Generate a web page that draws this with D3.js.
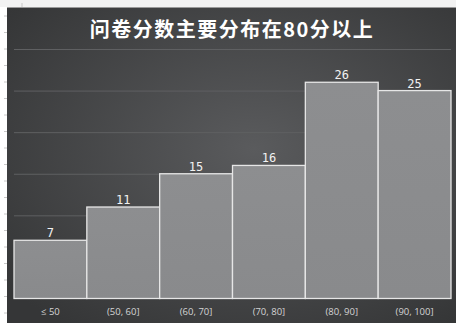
<!DOCTYPE html>
<html>
<head>
<meta charset="utf-8">
<script src="https://cdn.jsdelivr.net/npm/d3@7"></script>
<style>
  html, body { margin: 0; padding: 0; background: #ffffff; }
  svg { display: block; }
</style>
</head>
<body>
<svg id="chart" width="456" height="323"></svg>
<script>
// Score bins and respondent counts
const categories = ["≤ 50", "(50, 60]", "(60, 70]", "(70, 80]", "(80, 90]", "(90, 100]"];
const counts = [7, 11, 15, 16, 26, 25];
const gridTicks = [5, 10, 15, 20, 25, 30];
const titleText = "问卷分数主要分布在80分以上";

const W = 456, H = 323;
const svg = d3.select("#chart");
const defs = svg.append("defs");

// Dark panel gradient: lighter in the middle, darker towards the edges
const bg = defs.append("radialGradient").attr("id", "panelBg")
  .attr("cx", "55%").attr("cy", "45%").attr("r", "70%");
bg.append("stop").attr("offset", "0%").attr("stop-color", "#5a5b5d");
bg.append("stop").attr("offset", "100%").attr("stop-color", "#353637");

const barGrad = defs.append("linearGradient").attr("id", "barFill")
  .attr("x1", 0).attr("y1", 0).attr("x2", 0).attr("y2", 1);
barGrad.append("stop").attr("offset", "0%").attr("stop-color", "#8d8e90");
barGrad.append("stop").attr("offset", "100%").attr("stop-color", "#898a8c");

// Spreadsheet-like frame around the panel
svg.append("rect").attr("x", 0).attr("y", 0).attr("width", W).attr("height", 7).attr("fill", "#f2f2f2");
const rowMarks = d3.range(16, H, 16.5);
svg.selectAll("line.rowmark").data(rowMarks).join("line")
  .attr("class", "rowmark")
  .attr("x1", 4).attr("x2", 7).attr("y1", d => d).attr("y2", d => d)
  .attr("stroke", "#c8c8c8").attr("stroke-width", 1);
svg.append("line").attr("x1", 22).attr("x2", 22).attr("y1", 3).attr("y2", 7)
  .attr("stroke", "#c8c8c8");

// Panel
svg.append("rect").attr("x", 7).attr("y", 7).attr("width", W - 7).attr("height", H - 7)
  .attr("fill", "url(#panelBg)");
svg.append("line").attr("x1", 7).attr("x2", W).attr("y1", 7.5).attr("y2", 7.5)
  .attr("stroke", "#9a9a9a").attr("stroke-width", 1);

// Plot area
const plot = { left: 14, right: 451, top: 49, bottom: 298.5 };

const x = d3.scaleBand().domain(categories).range([plot.left, plot.right]).padding(0);
const y = d3.scaleLinear().domain([0, 30]).range([plot.bottom, plot.top]);

// Horizontal gridlines
svg.append("g")
  .attr("transform", `translate(${plot.left},0)`)
  .call(d3.axisLeft(y).tickValues(gridTicks).tickSize(-(plot.right - plot.left)).tickFormat(""))
  .call(g => g.select(".domain").remove())
  .call(g => g.selectAll(".tick line").attr("stroke", "#5f6062").attr("stroke-width", 1));

// Bars
svg.selectAll("rect.bar").data(counts).join("rect")
  .attr("class", "bar")
  .attr("x", (d, i) => x(categories[i]))
  .attr("y", d => y(d))
  .attr("width", x.bandwidth())
  .attr("height", d => y(0) - y(d))
  .attr("fill", "url(#barFill)")
  .attr("stroke", "#e6e6e6")
  .attr("stroke-width", 1.3);

// Value labels
svg.selectAll("text.value").data(counts).join("text")
  .attr("class", "value")
  .attr("x", (d, i) => x(categories[i]) + x.bandwidth() / 2)
  .attr("y", d => y(d) - 3)
  .attr("text-anchor", "middle")
  .attr("fill", "#f2f2f2")
  .attr("font-family", "'DejaVu Sans Mono', monospace")
  .attr("font-size", 12)
  .text(d => d);

// Category axis
svg.append("g")
  .attr("transform", `translate(0,${plot.bottom})`)
  .call(d3.axisBottom(x).tickSize(0).tickPadding(10))
  .call(g => g.select(".domain").remove())
  .call(g => g.selectAll("text")
    .attr("fill", "#d4d4d4")
    .attr("font-family", "'Open Sans', 'DejaVu Sans', sans-serif")
    .attr("font-size", 9.5));

// Title
svg.append("text")
  .attr("x", 232).attr("y", 37)
  .attr("text-anchor", "middle")
  .attr("fill", "#ffffff")
  .attr("font-family", "'Noto Sans CJK SC', sans-serif")
  .attr("font-weight", "bold")
  .attr("font-size", 20)
  .attr("letter-spacing", 1.5)
  .text(titleText);
</script>
</body>
</html>
